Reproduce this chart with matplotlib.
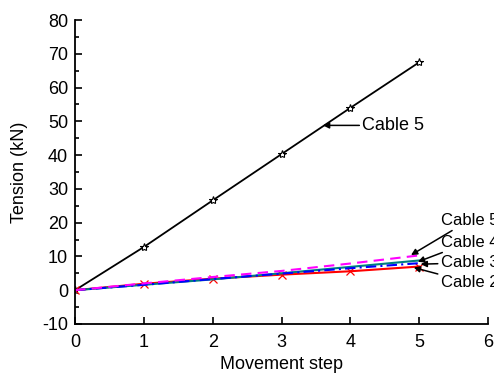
import matplotlib
matplotlib.use("Agg")
import matplotlib.pyplot as plt
from matplotlib.ticker import MultipleLocator

plt.rcParams['font.family'] = ['Liberation Sans', 'DejaVu Sans']
plt.rcParams['axes.unicode_minus'] = False

steps = [0, 1, 2, 3, 4, 5]
cable5_main = [0, 12.8, 26.6, 40.3, 54.0, 67.5]
cable5 = [0, 2.0, 3.9, 5.7, 7.9, 10.3]
cable4 = [0, 1.6, 3.2, 5.0, 6.9, 8.8]
cable3 = [0, 1.6, 3.3, 4.9, 6.5, 8.0]
cable2 = [0, 1.9, 3.4, 4.6, 5.6, 7.0]

fig = plt.figure(figsize=(4.94, 3.78), dpi=100)
ax = fig.add_axes([0.152, 0.143, 0.836, 0.804])

ax.plot(steps, cable5_main, color='black', lw=1.3, marker='*', ms=6,
        mfc='white', mec='black', mew=0.8)
ax.plot(steps, cable2, color='red', lw=1.5, marker='x', ms=6, mew=0.9)
ax.plot(steps, cable4, color='#008080', lw=1.5)
ax.plot(steps, cable3, color='blue', lw=1.5, ls=(0, (5, 2, 1, 2)))
ax.plot(steps, cable5, color='magenta', lw=1.5, ls=(0, (5, 3)))

ax.set_xlim(0, 6)
ax.set_ylim(-10, 80)
ax.xaxis.set_major_locator(MultipleLocator(1))
ax.yaxis.set_major_locator(MultipleLocator(10))
ax.yaxis.set_minor_locator(MultipleLocator(5))
ax.tick_params(which='both', direction='in', labelsize=13, width=1.2)
ax.tick_params(axis='x', pad=7)
ax.tick_params(axis='y', pad=5)
ax.tick_params(which='major', length=5)
ax.tick_params(which='minor', length=3)
ax.spines['top'].set_visible(False)
ax.spines['right'].set_visible(False)
for s in ('left', 'bottom'):
    ax.spines[s].set_linewidth(1.3)

ax.set_xlabel('Movement step', fontsize=13, labelpad=4)
ax.set_ylabel('Tension (kN)', fontsize=13, labelpad=10)

ap = dict(arrowstyle='-|>', color='black', lw=1.1, mutation_scale=9,
          shrinkA=0, shrinkB=0)
ax.annotate('Cable 5', xy=(3.6, 48.8), xytext=(4.17, 48.8), fontsize=13,
            va='center', ha='left', arrowprops=ap)
fs = 12
ax.annotate('Cable 5', xy=(4.88, 10.4), xytext=(5.31, 20.7), fontsize=fs,
            va='center', ha='left', arrowprops=ap, annotation_clip=False)
ax.annotate('Cable 4', xy=(4.98, 8.4), xytext=(5.31, 14.2), fontsize=fs,
            va='center', ha='left', arrowprops=ap, annotation_clip=False)
ax.annotate('Cable 3', xy=(5.02, 7.7), xytext=(5.31, 8.1), fontsize=fs,
            va='center', ha='left', arrowprops=ap, annotation_clip=False)
ax.annotate('Cable 2', xy=(4.92, 6.7), xytext=(5.31, 2.3), fontsize=fs,
            va='center', ha='left', arrowprops=ap, annotation_clip=False)

fig.savefig('out.png', dpi=100)
